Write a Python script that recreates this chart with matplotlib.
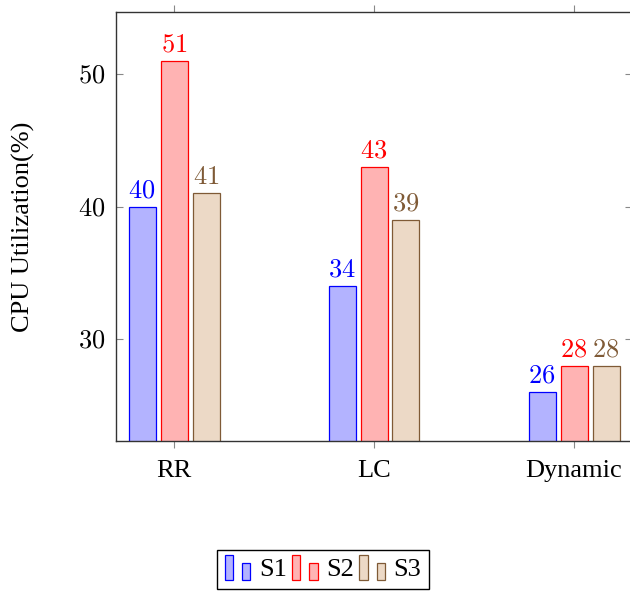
import matplotlib
matplotlib.use("Agg")
import matplotlib.pyplot as plt
from matplotlib.patches import Rectangle
from matplotlib.legend_handler import HandlerBase

# data
categories = ["RR", "LC", "Dynamic"]
series = ["S1", "S2", "S3"]
s1 = [40, 34, 26]
s2 = [51, 43, 28]
s3 = [41, 39, 28]

faces = ["#b3b3ff", "#ffb3b3", "#ecd9c6"]
edges = ["#0000ff", "#ff0000", "#7f5a36"]

plt.rcParams['font.family'] = ['Liberation Serif', 'DejaVu Serif']
plt.rcParams['mathtext.fontset'] = 'cm'


class DoubleBar(HandlerBase):
    # pgfplots style ybar legend: two small bars
    def create_artists(self, legend, orig_handle, xdescent, ydescent,
                       width, height, fontsize, trans):
        fc = orig_handle.get_facecolor()
        ec = orig_handle.get_edgecolor()
        w = width * 0.32
        r1 = Rectangle((-xdescent, -ydescent - height * 0.2), w, height * 1.35,
                       facecolor=fc, edgecolor=ec, lw=0.9, transform=trans)
        r2 = Rectangle((-xdescent + width * 0.66, -ydescent - height * 0.2), w, height * 0.95,
                       facecolor=fc, edgecolor=ec, lw=0.9, transform=trans)
        return [r1, r2]


fig = plt.figure(figsize=(6.3, 5.93), dpi=100)
ax = fig.add_axes([116/630, 1 - 441/593, 516/630, 429/593])

x = list(range(len(categories)))
offsets = [-0.16, 0.0, 0.16]
width = 0.135
proxies = []
for vals, off, fc, ec, name in zip([s1, s2, s3], offsets, faces, edges, series):
    xs = [i + off for i in x]
    ax.bar(xs, vals, width=width, color=fc, edgecolor=ec, linewidth=0.9, zorder=2)
    for xi, v in zip(xs, vals):
        ax.annotate(f"${v}$", (xi, v), xytext=(0, 3), textcoords="offset points",
                    ha="center", va="bottom", color=ec, fontsize=19)
    proxies.append(Rectangle((0, 0), 1, 1, facecolor=fc, edgecolor=ec, label=name))

ax.set_xlim(-0.29, 2.29)
ax.set_ylim(22.3, 54.7)
ax.set_xticks(x)
ax.set_xticklabels(categories, fontsize=19)
ax.set_yticks([30, 40, 50])
ax.set_yticklabels([f"${t}$" for t in [30, 40, 50]], fontsize=19)
ax.tick_params(axis="x", direction="out", top=True, length=5, width=0.8, color="#888888", pad=9)
ax.tick_params(axis="y", direction="in", right=True, length=5, width=0.8, color="#888888", pad=8)
for sp in ax.spines.values():
    sp.set_color("#333333")
    sp.set_linewidth(1.0)

ax.set_ylabel("CPU Utilization(%)", fontsize=19, labelpad=31)

leg = fig.legend(handles=proxies, labels=series, loc="upper center",
                 bbox_to_anchor=(323/630, 1 - 550/593), borderaxespad=0, ncol=3, fontsize=19,
                 handler_map={Rectangle: DoubleBar()}, handlelength=1.0,
                 handletextpad=0.3, columnspacing=0.2, borderpad=0.3,
                 fancybox=False, framealpha=1)
leg.get_frame().set_edgecolor("black")
leg.get_frame().set_linewidth(1.0)

fig.savefig("out.png", dpi=100)
